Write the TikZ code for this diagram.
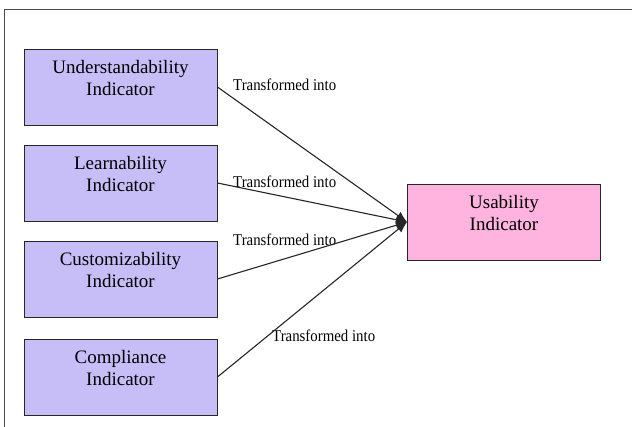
\documentclass[tikz,border=0pt]{standalone}
\usepackage{fontspec}
\setmainfont{Liberation Serif}
\newfontfamily\boxfont{Liberation Serif}
\newfontfamily\edgefont[FakeStretch=0.9]{Liberation Serif}
\usepackage{tikz}
\usetikzlibrary{positioning,arrows.meta}

\definecolor{lavender}{RGB}{199,190,248}
\definecolor{rosepink}{RGB}{255,179,222}

\begin{document}
\begin{tikzpicture}
  [x=1pt,y=-1pt,
   every node/.style={font=\boxfont\fontsize{19}{22}\selectfont},
   ind/.style={draw=black!85,line width=0.9pt,rectangle,fill=lavender,
     minimum width=193pt,minimum height=76pt,align=center,text depth=18pt},
   tgt/.style={ind,fill=rosepink},
   lbl/.style={font=\edgefont\fontsize{16.5}{18}\selectfont,inner sep=0pt,anchor=west},
   conn/.style={line width=1.1pt,black!85,-{Latex[length=11pt,width=9pt]}}]
  \useasboundingbox (0,0) rectangle (632,427);
  \fill[white] (0,0) rectangle (632,427);
  \draw[black!70,line width=1pt] (4,440) -- (4,10) -- (640,10);

  \node[ind] (und) at (120.5,87)  {Understandability\\Indicator};
  \node[ind] (lrn) at (120.5,183) {Learnability\\Indicator};
  \node[ind] (cus) at (120.5,279) {Customizability\\Indicator};
  \node[ind] (cmp) at (120.5,377) {Compliance\\Indicator};
  \node[tgt] (usa) at (504,222)   {Usability\\Indicator};

  \node[lbl] (t1) at (233,85)  {Transformed into};
  \node[lbl] (t2) at (233,182) {Transformed into};
  \node[lbl] (t3) at (233,240) {Transformed into};
  \node[lbl] (t4) at (272,336) {Transformed into};

  \draw[conn] (und.east) -- (usa.west);
  \draw[conn] (lrn.east) -- (usa.west);
  \draw[conn] (cus.east) -- (usa.west);
  \draw[conn] (cmp.east) -- (usa.west);
\end{tikzpicture}
\end{document}
